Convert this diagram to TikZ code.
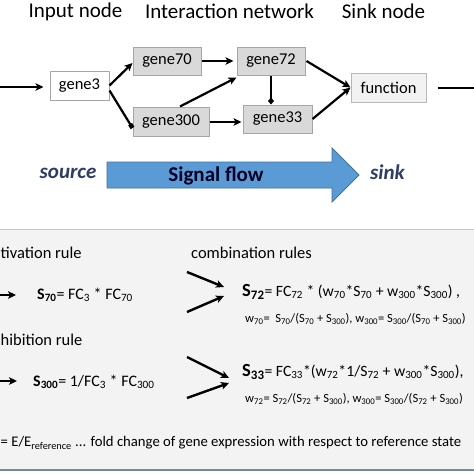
\documentclass[tikz,border=0pt]{standalone}
\usepackage{fontspec}
\setmainfont{Carlito}
\usetikzlibrary{arrows.meta}
\definecolor{boxgray}{HTML}{D9D9D9}
\definecolor{bordgray}{HTML}{A6A6A6}
\definecolor{funcfill}{HTML}{F2F2F2}
\definecolor{flowblue}{HTML}{5B9BD5}
\definecolor{flowedge}{HTML}{41719C}
\definecolor{srcblue}{HTML}{2F3D66}
\definecolor{panelfill}{HTML}{F3F3F3}
\definecolor{paneltop}{HTML}{B8C7D9}
\definecolor{panelbot}{HTML}{6E8C99}
\begin{document}
\begin{tikzpicture}[x=1pt,y=-1pt,
  head/.style={font=\fontsize{21}{25}\selectfont, inner sep=0pt},
  genebox/.style={draw=bordgray, line width=1pt, fill=boxgray, inner sep=0pt, font=\fontsize{16.5}{19}\selectfont},
  netarrow/.style={line width=2.2pt, -{Stealth[length=8pt,width=7.5pt,inset=2pt]}},
  flowtxt/.style={font=\fontsize{21}{25}\selectfont\bfseries\itshape, text=srcblue, inner sep=0pt},
  rule/.style={font=\fontsize{16.5}{20}\selectfont, inner sep=0pt},
  eqL/.style={font=\fontsize{16}{19}\selectfont, inner sep=0pt, anchor=west},
  eq/.style={font=\fontsize{15.7}{19}\selectfont, inner sep=0pt, anchor=west},
  weq/.style={font=\fontsize{12.5}{14}\selectfont, inner sep=0pt, anchor=west},
  panarrow/.style={line width=2.4pt, -{Stealth[length=8pt,width=7.5pt,inset=2pt]}}
]
\useasboundingbox (0,0) rectangle (474,474);
\clip (0,0) rectangle (474,474);
\fill[white] (0,0) rectangle (474,474);

% headings
\node[head] (hin) at (75.5,11.5) {Input node};
\node[head] (hnet) at (229.5,11.5) {Interaction network};
\node[head] (hsink) at (383.5,11.5) {Sink node};

% network nodes
\node[genebox, fill=white, minimum width=59pt, minimum height=29pt] (g3) at (79.5,85.5) {gene3};
\node[genebox, minimum width=68pt, minimum height=28pt] (g70) at (167,61) {gene70};
\node[genebox, minimum width=68pt, minimum height=28pt] (g72) at (271,61) {gene72};
\node[genebox, minimum width=76pt, minimum height=29pt] (g300) at (171,121.5) {gene300};
\node[genebox, minimum width=69pt, minimum height=28pt] (g33) at (277.5,119) {gene33};
\node[genebox, draw=bordgray!80, fill=funcfill, minimum width=75pt, minimum height=29pt] (fn) at (388.5,87.5) {function};

\coordinate (inL) at (-4,87);
\coordinate (outR) at (478,88);
\coordinate (g300e) at ([yshift=-0.5pt]g300.east);

% connectors
\draw[netarrow, shorten >=6pt] (inL) -- (g3.west |- inL);
\draw[line width=2.2pt, shorten <=11pt] (fn.east |- outR) -- (outR);
\draw[netarrow] (g3.east) -- ([yshift=-2pt]g70.west);
\draw[line width=2.2pt, -{Square[length=4.5pt,width=4.5pt]}] ([yshift=-5pt]g3.east) -- ([yshift=-6.5pt]g300.west);
\draw[netarrow, shorten >=3pt] (g70.east) -- (g72.west);
\draw[netarrow] ([xshift=9pt]g300.north) -- ([yshift=-2pt]g72.south west);
\draw[netarrow, shorten >=1pt] (g300e) -- (g33.west |- g300e);
\draw[line width=2.2pt, -{Diamond[length=7pt,width=6pt]}] (g72.south) -- (g72.south |- g33.north);
\draw[netarrow] ([xshift=1pt]g72.east) -- (fn.west);
\draw[netarrow] (g33.east) -- (fn.west);

% signal flow arrow
\draw[fill=flowblue, draw=flowedge, line width=0.8pt]
  (107,162) -- (332,162) -- (332,148) -- (359,175) -- (332,202) -- (332,188) -- (107,188) -- cycle;
\node[font=\fontsize{21}{25}\selectfont\bfseries, text=black!85!blue, inner sep=0pt] (sf) at (216,176) {Signal flow};
\node[flowtxt] (src) at (68,173) {source};
\node[flowtxt] (snk) at (387.5,172) {sink};

% panel
\fill[panelfill] (-2,230) rectangle (476,470);
\draw[paneltop, line width=1.5pt] (-2,229.5) -- (476,229.5);
\draw[panelbot, line width=2pt] (-2,470) -- (476,470);

\node[rule, anchor=west] (act) at (0.5,253) {tivation rule};
\node[rule, anchor=west] (inh) at (0.5,340) {hibition rule};
\node[rule, anchor=west] (comb) at (191,253) {combination rules};

\coordinate (a1s) at (-6,295);
\coordinate (a1e) at (16,295);
\coordinate (a2s) at (-6,381);
\coordinate (a2e) at (17,381);
\draw[panarrow] (a1s) -- (a1e);
\draw[panarrow] (a2s) -- (a2e);

\node[eqL] (s70) at (37,295) {\textbf{S\textsubscript{70}}= FC\textsubscript{3} * FC\textsubscript{70}};
\node[eqL] (s300) at (33,382) {\textbf{S\textsubscript{300}}= 1/FC\textsubscript{3} * FC\textsubscript{300}};

\coordinate (c1a) at (187,272);
\coordinate (c1b) at (187,312);
\coordinate (c1t) at (224,287);
\coordinate (c1u) at (224,296);
\coordinate (c2a) at (187,357);
\coordinate (c2b) at (187,398);
\coordinate (c2t) at (229,378);
\coordinate (c2u) at (229,383);
\draw[panarrow] (c1a) -- (c1t);
\draw[panarrow] (c1b) -- (c1u);
\draw[panarrow] (c2a) -- (c2t);
\draw[panarrow] (c2b) -- (c2u);

\node[eq] (s72) at (242,292) {{\fontsize{18.5}{22}\selectfont\textbf{S\textsubscript{72}}}= FC\textsubscript{72} * (w\textsubscript{70}*S\textsubscript{70} + w\textsubscript{300}*S\textsubscript{300}) ,};
\node[weq] (w70) at (245,319) {w\textsubscript{70}=\ \ S\textsubscript{70}/(S\textsubscript{70} + S\textsubscript{300}), w\textsubscript{300}= S\textsubscript{300}/(S\textsubscript{70} + S\textsubscript{300})};
\node[eq] (s33) at (242,372) {{\fontsize{18.5}{22}\selectfont\textbf{S\textsubscript{33}}}= FC\textsubscript{33}*(w\textsubscript{72}*1/S\textsubscript{72} + w\textsubscript{300}*S\textsubscript{300}),};
\node[weq] (w72) at (245,399) {w\textsubscript{72}= S\textsubscript{72}/(S\textsubscript{72} + S\textsubscript{300}), w\textsubscript{300}= S\textsubscript{300}/(S\textsubscript{72} + S\textsubscript{300})};

\node[font=\fontsize{14.7}{18}\selectfont, inner sep=0pt, anchor=west] (fc) at (0.5,443) {= E/E\textsubscript{reference} ... fold change of gene expression with respect to reference state};
\end{tikzpicture}
\end{document}
